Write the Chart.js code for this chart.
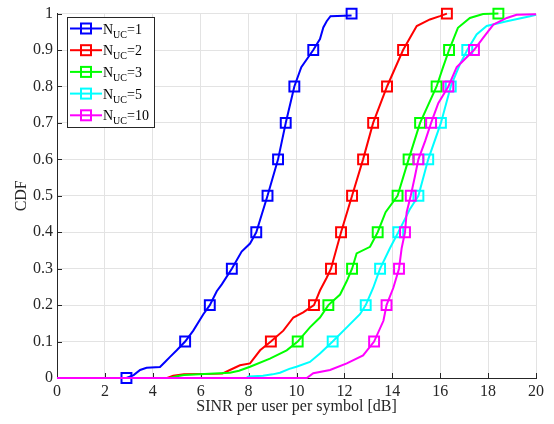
<!DOCTYPE html>
<html>
<head>
<meta charset="utf-8">
<script src="https://cdn.jsdelivr.net/npm/chart.js@4.4.1/dist/chart.umd.min.js"></script>
<style>
  html, body { margin: 0; background: #fff; }
</style>
</head>
<body>
<canvas id="cdfChart" width="554" height="424"></canvas>
<script>
// values (x = SINR in dB, y = CDF)
const nucValues = ["1", "2", "3", "5", "10"];
const markLevels = [0, 0.1, 0.2, 0.3, 0.4, 0.5, 0.6, 0.7, 0.8, 0.9, 1];
const xTickLabels = ["0", "2", "4", "6", "8", "10", "12", "14", "16", "18", "20"];
const yTickLabels = ["0", "0.1", "0.2", "0.3", "0.4", "0.5", "0.6", "0.7", "0.8", "0.9", "1"];

const blueX = [0, 2.9, 3.2, 3.47, 3.74, 4.3, 4.51, 4.72, 5.0, 5.35, 5.69, 6.11, 6.38, 6.67, 6.88, 7.3, 7.71, 8.06, 8.32, 8.79, 9.23, 9.55, 9.91, 10.2, 10.7, 10.98, 11.12, 11.26, 11.42, 12.3];
const blueY = [0, 0, 0.008, 0.022, 0.028, 0.03, 0.044, 0.058, 0.076, 0.1, 0.13, 0.175, 0.2, 0.238, 0.257, 0.3, 0.347, 0.369, 0.4, 0.5, 0.6, 0.7, 0.8, 0.853, 0.9, 0.93, 0.962, 0.979, 0.993, 0.995];
const blueMarkX = [2.9, 5.35, 6.38, 7.3, 8.32, 8.79, 9.23, 9.55, 9.91, 10.7, 12.3];

const redX = [0, 4.6, 4.85, 5.3, 6.9, 7.22, 7.64, 8.06, 8.48, 8.93, 9.45, 9.87, 10.28, 10.73, 10.98, 11.26, 11.44, 11.86, 12.32, 12.78, 13.2, 13.78, 14.45, 14.74, 15.02, 15.57, 15.99, 16.28];
const redY = [0, 0, 0.006, 0.01, 0.012, 0.022, 0.035, 0.04, 0.076, 0.1, 0.13, 0.166, 0.18, 0.2, 0.24, 0.275, 0.3, 0.4, 0.5, 0.6, 0.7, 0.8, 0.9, 0.934, 0.966, 0.984, 0.993, 1.0];
const redMarkX = [null, 8.93, 10.73, 11.44, 11.86, 12.32, 12.78, 13.2, 13.78, 14.45, 16.28];

const greenX = [0, 4.7, 5.0, 5.3, 7.22, 7.6, 8.06, 8.89, 9.59, 10.05, 10.56, 10.98, 11.33, 11.82, 12.1, 12.32, 12.51, 13.07, 13.39, 13.72, 14.22, 14.68, 15.16, 15.85, 16.12, 16.37, 16.74, 17.24, 17.79, 18.43];
const greenY = [0, 0, 0.005, 0.008, 0.0145, 0.02, 0.031, 0.053, 0.076, 0.1, 0.139, 0.166, 0.2, 0.229, 0.266, 0.3, 0.342, 0.36, 0.4, 0.455, 0.5, 0.6, 0.7, 0.8, 0.853, 0.9, 0.961, 0.988, 0.999, 1.0];
const greenMarkX = [null, 10.05, 11.33, 12.32, 13.39, 14.22, 14.68, 15.16, 15.85, 16.37, 18.43];

const cyanX = [0, 7.9, 8.0, 8.6, 9.0, 9.31, 9.7, 10.0, 10.56, 10.98, 11.51, 12.1, 12.65, 12.89, 13.2, 13.49, 13.9, 14.25, 14.74, 15.09, 15.5, 16.03, 16.44, 16.83, 17.13, 17.52, 17.94, 18.78, 19.75, 20];
const cyanY = [0, 0, 0.004, 0.006, 0.01, 0.0145, 0.025, 0.031, 0.044, 0.067, 0.1, 0.139, 0.175, 0.2, 0.247, 0.3, 0.356, 0.4, 0.464, 0.5, 0.6, 0.7, 0.8, 0.862, 0.9, 0.943, 0.966, 0.979, 0.993, 0.997];
const cyanMarkX = [null, 11.51, 12.89, 13.49, 14.25, 15.09, 15.5, 16.03, 16.44, 17.13, null];

const magX = [0, 10.43, 10.7, 11.4, 12.1, 12.78, 13.24, 13.63, 13.76, 14.04, 14.28, 14.39, 14.53, 14.6, 14.77, 14.95, 15.09, 15.37, 15.62, 15.92, 16.34, 16.69, 17.41, 17.8, 18.22, 18.78, 19.19, 20];
const magY = [0, 0, 0.013, 0.022, 0.04, 0.062, 0.1, 0.157, 0.2, 0.247, 0.3, 0.356, 0.4, 0.455, 0.5, 0.555, 0.6, 0.65, 0.7, 0.754, 0.8, 0.853, 0.9, 0.934, 0.97, 0.988, 0.997, 0.998];
const magMarkX = [null, 13.24, 13.76, 14.28, 14.53, 14.77, 15.09, 15.62, 16.34, 17.41, null];

const colors = ["#0000ff", "#ff0000", "#00ff00", "#00ffff", "#ff00ff"];
const series = [
  [blueX, blueY, blueMarkX],
  [redX, redY, redMarkX],
  [greenX, greenY, greenMarkX],
  [cyanX, cyanY, cyanMarkX],
  [magX, magY, magMarkX],
];

const FONT = "'Liberation Serif', 'Times New Roman', serif";
const AXIS = "#262626";

const datasets = [];
series.forEach(([xs, ys, mx], i) => {
  datasets.push({
    data: xs.map((x, k) => ({ x: x, y: ys[k] })),
    showLine: true,
    borderColor: colors[i],
    borderWidth: 2,
    pointRadius: 0,
    tension: 0,
    clip: false,
    order: 20 - 2 * i,
  });
  datasets.push({
    data: mx.map((x, k) => ({ x: x, y: markLevels[k] })).filter((p) => p.x !== null),
    showLine: false,
    pointStyle: "rect",
    pointRadius: 7,
    pointBorderWidth: 2,
    pointBorderColor: colors[i],
    pointBackgroundColor: "rgba(0,0,0,0)",
    clip: false,
    order: 19 - 2 * i,
  });
});

// inward tick marks on left and bottom axes
const innerTicks = {
  id: "innerTicks",
  beforeDatasetsDraw(chart) {
    const { ctx, chartArea, scales } = chart;
    ctx.save();
    ctx.strokeStyle = AXIS;
    ctx.lineWidth = 1;
    ctx.beginPath();
    scales.x.ticks.forEach((t) => {
      const px = Math.round(scales.x.getPixelForValue(t.value)) + 0.5;
      ctx.moveTo(px, chartArea.bottom);
      ctx.lineTo(px, chartArea.bottom - 5);
    });
    scales.y.ticks.forEach((t) => {
      const py = Math.round(scales.y.getPixelForValue(t.value)) + 0.5;
      ctx.moveTo(chartArea.left, py);
      ctx.lineTo(chartArea.left + 5, py);
    });
    ctx.stroke();
    ctx.restore();
  },
};

// legend box with N_UC subscripts
const legendBox = {
  id: "legendBox",
  afterDraw(chart) {
    const ctx = chart.ctx;
    ctx.save();
    ctx.fillStyle = "#fff";
    ctx.fillRect(67, 17, 88, 111);
    ctx.strokeStyle = AXIS;
    ctx.lineWidth = 1;
    ctx.strokeRect(67.5, 17.5, 87, 110);
    nucValues.forEach((n, i) => {
      const y = 28.5 + i * 21.7;
      ctx.strokeStyle = colors[i];
      ctx.lineWidth = 2;
      ctx.beginPath();
      ctx.moveTo(70, y);
      ctx.lineTo(102, y);
      ctx.stroke();
      ctx.strokeRect(81, y - 5, 10, 10);
      ctx.fillStyle = "#000";
      ctx.textBaseline = "alphabetic";
      ctx.font = "14px " + FONT;
      ctx.fillText("N", 103, y + 5);
      let w = ctx.measureText("N").width;
      ctx.font = "10px " + FONT;
      ctx.fillText("UC", 103 + w, y + 9);
      w += ctx.measureText("UC").width;
      ctx.font = "14px " + FONT;
      ctx.fillText("=" + n, 103 + w, y + 5);
    });
    ctx.restore();
  },
};

new Chart(document.getElementById("cdfChart"), {
  type: "scatter",
  data: { datasets: datasets },
  plugins: [innerTicks, legendBox],
  options: {
    responsive: false,
    animation: false,
    layout: { padding: { top: 9, right: 18, left: 0, bottom: 0 } },
    plugins: { legend: { display: false }, tooltip: { enabled: false } },
    scales: {
      x: {
        type: "linear",
        min: 0,
        max: 20,
        afterFit: (s) => { s.height = 46; },
        afterBuildTicks: (s) => { s.ticks = xTickLabels.map((l) => ({ value: Number(l) })); },
        ticks: {
          autoSkip: false,
          maxRotation: 0,
          padding: 4,
          color: AXIS,
          font: { family: FONT, size: 16 },
          callback: (v, i) => xTickLabels[i],
        },
        grid: { color: "#e3e3e3", drawTicks: false },
        border: { color: AXIS, width: 1 },
        title: {
          display: true,
          text: "SINR per user per symbol [dB]",
          color: AXIS,
          font: { family: FONT, size: 16 },
          padding: { top: 0, bottom: 8 },
        },
      },
      y: {
        type: "linear",
        min: 0,
        max: 1,
        afterFit: (s) => { s.width = 57; },
        afterBuildTicks: (s) => { s.ticks = yTickLabels.map((l) => ({ value: Number(l) })); },
        ticks: {
          autoSkip: false,
          padding: 4,
          color: AXIS,
          font: { family: FONT, size: 16 },
          callback: (v, i) => yTickLabels[i],
        },
        grid: { color: "#e3e3e3", drawTicks: false },
        border: { color: AXIS, width: 1 },
        title: {
          display: true,
          text: "CDF",
          color: AXIS,
          font: { family: FONT, size: 16 },
          padding: { top: 12, bottom: 0 },
        },
      },
    },
  },
});
</script>
</body>
</html>
